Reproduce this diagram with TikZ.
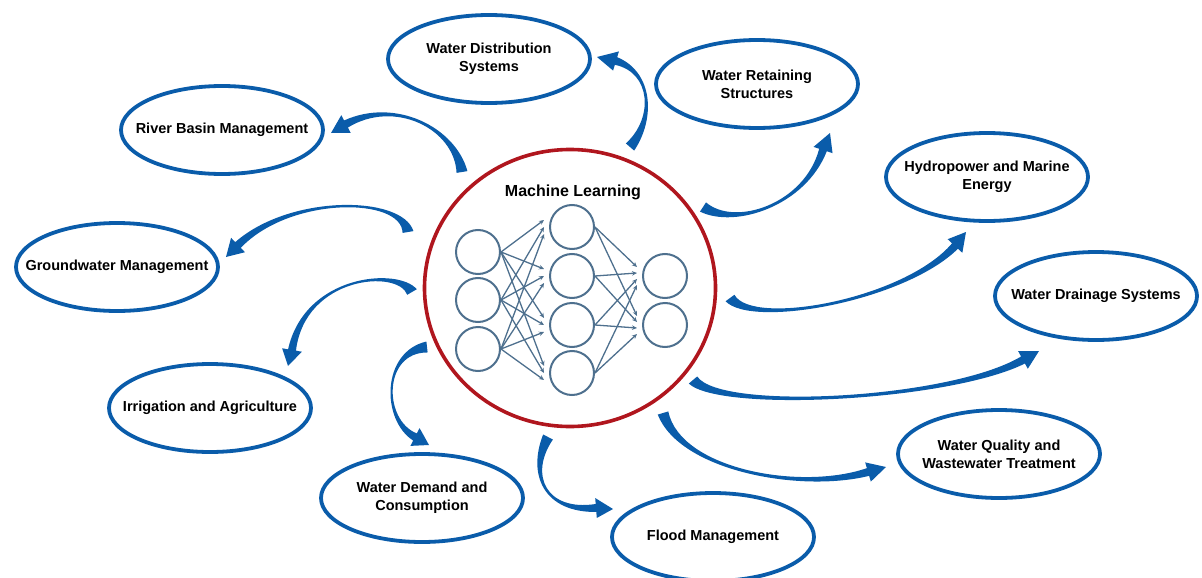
\documentclass[tikz,border=0pt]{standalone}
\usepackage{fontspec}
\setmainfont{Liberation Sans}
\usetikzlibrary{shapes.geometric,calc,arrows.meta}
\definecolor{areablue}{RGB}{10,92,170}
\definecolor{mlred}{RGB}{176,22,30}
\definecolor{netblue}{RGB}{78,112,142}

% Tapered curved arrow: #1 start, #2 and #3 controls, #4 neck, #5 tip
\newcommand\taperarrow[5]{%
  \fill[areablue] ($(#1)!5.5pt!90:(#2)$)
    .. controls ($(#2)!1pt!90:(#3)$) and ($(#3)!1pt!-90:(#2)$) .. ($(#4)!4pt!-90:(#3)$)
    -- ($(#4)!10pt!-90:(#3)$) -- (#5) -- ($(#4)!10pt!90:(#3)$)
    -- ($(#4)!4pt!90:(#3)$)
    .. controls ($(#3)!1pt!90:(#2)$) and ($(#2)!1pt!-90:(#3)$) .. ($(#1)!5.5pt!-90:(#2)$)
    -- cycle;}

\tikzset{
  area/.style={ellipse, draw=areablue, line width=3.8pt, minimum width=202pt,
    minimum height=88pt, inner sep=0pt},
  areatext/.style={align=center, font=\fontsize{14.5}{18}\selectfont\bfseries},
  neuron/.style={circle, draw=netblue, line width=2pt, minimum size=44pt, inner sep=0pt},
  link/.style={draw=netblue, line width=1.3pt, -{Stealth[length=5pt,width=4.5pt]}},
}

\begin{document}
\begin{tikzpicture}[x=1pt, y=-1pt]
\useasboundingbox (0,0) rectangle (1202,578);
\clip (0,0) rectangle (1202,578);

% central circle with the network
\node[ellipse, draw=mlred, line width=3.6pt, minimum width=291pt, minimum height=277pt,
  inner sep=0pt] (ml) at (570,288) {};
\node[font=\fontsize{16}{19}\selectfont\bfseries] (mlT) at (573,192) {Machine Learning};

\node[neuron] (i1) at (478,252) {};
\node[neuron] (i2) at (478,300) {};
\node[neuron] (i3) at (478,349) {};
\node[neuron] (h1) at (572,227) {};
\node[neuron] (h2) at (572,276) {};
\node[neuron] (h3) at (572,325) {};
\node[neuron] (h4) at (572,373) {};
\node[neuron] (o1) at (665,276) {};
\node[neuron] (o2) at (665,325) {};

\foreach \i in {1,2,3}{
  \foreach \j in {1,2,3,4}{
    \draw[link] (i\i.east) -- ($(h\j.west)+(-5,{(\i-2)*7})$);
  }
}
\foreach \j in {1,2,3,4}{
  \foreach \k in {1,2}{
    \draw[link] (h\j.east) -- ($(o\k.west)+(-5,{(\j-2.5)*6})$);
  }
}

% application areas
\node[area] (wds) at (489,59) {};
\node[areatext] (wdsT) at (wds.center) {Water Distribution\\Systems};
\node[area] (wrs) at (757,84) {};
\node[areatext] (wrsT) at (wrs.center) {Water Retaining\\Structures};
\node[area] (rbm) at (222,130) {};
\node[areatext] (rbmT) at (rbm.center) {River Basin Management};
\node[area] (hyd) at (987,177) {};
\node[areatext] (hydT) at (hyd.center) {Hydropower and Marine\\Energy};
\node[area] (gwm) at (117,267) {};
\node[areatext] (gwmT) at (gwm.center) {Groundwater Management};
\node[area] (wdr) at (1096,296) {};
\node[areatext] (wdrT) at (wdr.center) {Water Drainage Systems};
\node[area] (irr) at (210,408) {};
\node[areatext] (irrT) at (irr.center) {Irrigation and Agriculture};
\node[area] (dem) at (422,498) {};
\node[areatext] (demT) at (dem.center) {Water Demand and\\Consumption};
\node[area] (wqt) at (999,454) {};
\node[areatext] (wqtT) at (wqt.center) {Water Quality and\\Wastewater Treatment};
\node[area] (fld) at (713,537) {};
\node[areatext] (fldT) at (fld.center) {Flood Management};

% arrow geometry: start, controls, neck, tip
\coordinate (a1s) at (630,147); \coordinate (a1c) at (655,118); \coordinate (a1d) at (652,72);
\coordinate (a1n) at (616,61);  \coordinate (a1t) at (597,57);
\coordinate (a2s) at (703,207); \coordinate (a2c) at (735,228); \coordinate (a2d) at (805,205);
\coordinate (a2n) at (823,150); \coordinate (a2t) at (830,133);
\coordinate (a3s) at (462,172); \coordinate (a3c) at (455,128); \coordinate (a3d) at (395,98);
\coordinate (a3n) at (346,124); \coordinate (a3t) at (331,133);
\coordinate (a4s) at (408,232); \coordinate (a4c) at (402,196); \coordinate (a4d) at (290,195);
\coordinate (a4n) at (238,245); \coordinate (a4t) at (226,257);
\coordinate (a5s) at (412,292); \coordinate (a5c) at (398,268); \coordinate (a5d) at (305,275);
\coordinate (a5n) at (292,350); \coordinate (a5t) at (288,366);
\coordinate (a6s) at (427,347); \coordinate (a6c) at (382,352); \coordinate (a6d) at (382,420);
\coordinate (a6n) at (415,437); \coordinate (a6t) at (429,445);
\coordinate (a7s) at (548,437); \coordinate (a7c) at (528,475); \coordinate (a7d) at (545,512);
\coordinate (a7n) at (596,508); \coordinate (a7t) at (613,509);
\coordinate (a8s) at (663,413); \coordinate (a8c) at (680,470); \coordinate (a8d) at (800,492);
\coordinate (a8n) at (868,472); \coordinate (a8t) at (886,467);
\coordinate (a9s) at (693,380); \coordinate (a9c) at (720,412); \coordinate (a9d) at (950,400);
\coordinate (a9n) at (1023,360); \coordinate (a9t) at (1039,351);
\coordinate (a10s) at (730,298); \coordinate (a10c) at (752,328); \coordinate (a10d) at (905,300);
\coordinate (a10n) at (955,246); \coordinate (a10t) at (966,232);

\foreach \a in {1,...,10}{
  \taperarrow{a\a s}{a\a c}{a\a d}{a\a n}{a\a t}
}

\end{tikzpicture}
\end{document}
